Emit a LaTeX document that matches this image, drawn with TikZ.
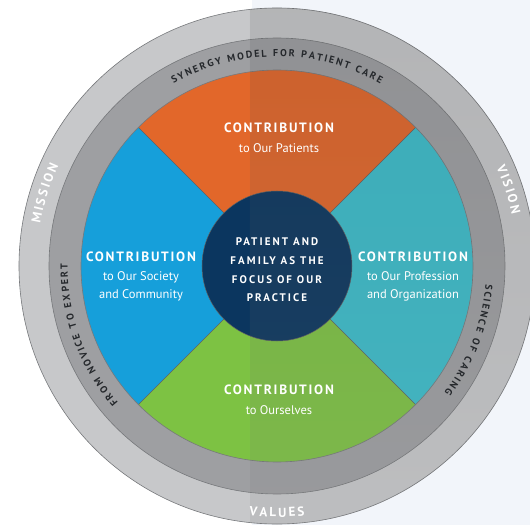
\documentclass[tikz,border=0pt]{standalone}
\usepackage{fontspec}
\setmainfont{PT Sans}
\newfontfamily\headfam{PT Sans}[LetterSpace=13]
\newfontfamily\corefam{PT Sans}[LetterSpace=19]
\newfontfamily\plainfam{PT Sans}

\definecolor{bgtint}{HTML}{F2F5FA}
\definecolor{ringouter}{HTML}{C7C8CA}
\definecolor{ringmid}{HTML}{9E9FA2}
\definecolor{ringline}{HTML}{77797C}
\definecolor{ringtext}{HTML}{25282C}
\definecolor{segorange}{HTML}{E2672A}
\definecolor{segblue}{HTML}{169FDA}
\definecolor{segteal}{HTML}{3CBDCB}
\definecolor{seggreen}{HTML}{7DC243}
\definecolor{corenavy}{HTML}{0B365F}
\definecolor{shade}{HTML}{3A5A80}

\newcommand\headfont{\headfam\bfseries\fontsize{13.5}{16}\selectfont}
\newcommand\subfont{\plainfam\fontsize{12.5}{18}\selectfont}
\newcommand\corefont{\corefam\bfseries\fontsize{11}{19}\selectfont}
\newcommand\midringfont{\plainfam\bfseries\fontsize{10}{12}\selectfont}
\newcommand\outringfont{\plainfam\bfseries\fontsize{13}{15}\selectfont}

% letters set one by one along a circle about the origin
\newlength\arcw
\newlength\arcpos
% measure one letter with the normal text font machinery
\newcommand\arcmeasure[2]{%
  \pgfinterruptpicture
    \settowidth\arcw{#1#2}%
    \global\arcw=\arcw
  \endpgfinterruptpicture
}
% #1 font, #2 baseline radius, #3 centre angle, #4 letter gap,
% #5 1 = clockwise with tops outward, -1 = anticlockwise with tops inward,
% #6 name prefix, #7 comma list of letters (~ for a space)
\newcommand\arctext[7]{%
  \global\arcpos=0pt
  \foreach \ch in {#7}{%
    \arcmeasure{#1}{\ch}%
    \global\advance\arcpos by \arcw
    \global\advance\arcpos by #4\relax
  }%
  \global\advance\arcpos by -#4\relax
  \pgfmathsetmacro\arctotal{\arcpos}%
  \global\arcpos=0pt
  \foreach \ch [count=\k] in {#7}{%
    \arcmeasure{#1}{\ch}%
    \pgfmathsetmacro\arcd{\arcpos + 0.5*\arcw - 0.5*\arctotal}%
    \pgfmathsetmacro\arcang{#3 - #5*deg(\arcd/#2)}%
    \pgfmathsetmacro\arcrot{\arcang - #5*90}%
    \node[ringchar, font=#1, rotate=\arcrot] (#6-\k) at (\arcang:#2) {\ch};
    \global\advance\arcpos by \arcw
    \global\advance\arcpos by #4\relax
  }%
}

\tikzset{
  ringchar/.style={anchor=base, inner sep=0pt, outer sep=0pt},
  ringedge/.style={draw=ringline, line width=0.6pt},
  segedge/.style={draw=ringline!80!black, line width=0.5pt},
  headlbl/.style={text=white, font=\headfont, inner sep=0pt, anchor=base},
  sublbl/.style={text=white, font=\subfont, inner sep=0pt, align=center, anchor=base},
  corelbl/.style={text=white, font=\corefont, inner sep=0pt, anchor=base},
}

\begin{document}
\begin{tikzpicture}[x=1pt, y=1pt]
  \useasboundingbox (-277,-259) rectangle (253,266);
  % page
  \fill[white] (-277,-259) rectangle (253,266);
  \fill[bgtint] (-25,-259) rectangle (253,266);

  % rings
  \fill[ringouter] (0,0) circle[radius=258];
  \draw[ringedge] (0,0) circle[radius=258];
  \fill[ringmid] (0,0) circle[radius=228];
  \draw[ringedge] (0,0) circle[radius=228];

  % four sectors
  \fill[segteal]   (0,0) -- (-45:196) arc[start angle=-45, end angle=45,  radius=196] -- cycle;
  \fill[segorange] (0,0) -- (45:196)  arc[start angle=45,  end angle=135, radius=196] -- cycle;
  \fill[segblue]   (0,0) -- (135:196) arc[start angle=135, end angle=225, radius=196] -- cycle;
  \fill[seggreen]  (0,0) -- (225:196) arc[start angle=225, end angle=315, radius=196] -- cycle;
  \foreach \a in {45,135,225,315} \draw[segedge] (0,0) -- (\a:196);
  \draw[ringedge] (0,0) circle[radius=196];

  % core
  \fill[corenavy] (0,0) circle[radius=75];
  \draw[segedge] (0,0) circle[radius=75];

  % darker tint over the right part of the wheel
  \begin{scope}
    \clip (0,0) circle[radius=258.4];
    \fill[shade, fill opacity=0.07] (-27,-260) rectangle (260,266);
  \end{scope}

  % sector labels
  \node[headlbl] (topHead) at (2,133.5) {CONTRIBUTION};
  \node[sublbl]  (topSub)  at (2,113) {to Our Patients};
  \node[headlbl] (leftHead) at (-136,4.5) {CONTRIBUTION};
  \node[sublbl]  (leftSub)  at (-136,-32.5) {to Our Society\\and Community};
  \node[headlbl] (rightHead) at (136,4.5) {CONTRIBUTION};
  \node[sublbl]  (rightSub)  at (136,-32.5) {to Our Profession\\and Organization};
  \node[headlbl] (botHead) at (2,-128.5) {CONTRIBUTION};
  \node[sublbl]  (botSub)  at (2,-148) {to Ourselves};

  % core label
  \node[corelbl] (core1) at (0,21) {PATIENT AND};
  \node[corelbl] (core2) at (0,2) {FAMILY AS THE};
  \node[corelbl] (core3) at (0,-17) {FOCUS OF OUR};
  \node[corelbl] (core4) at (0,-35) {PRACTICE};

  % middle ring words
  \begin{scope}[text=ringtext]
    \arctext{\midringfont}{209.5}{90}{1.9pt}{1}{syn}{S,Y,N,E,R,G,Y,~,M,O,D,E,L,~,F,O,R,~,P,A,T,I,E,N,T,~,C,A,R,E}
    \arctext{\midringfont}{209.5}{200}{1.9pt}{1}{nov}{F,R,O,M,~,N,O,V,I,C,E,~,T,O,~,E,X,P,E,R,T}
    \arctext{\midringfont}{209.5}{-21}{1.9pt}{1}{sci}{S,C,I,E,N,C,E,~,O,F,~,C,A,R,I,N,G}
  \end{scope}

  % outer ring words
  \begin{scope}[text=white]
    \arctext{\outringfont}{240.5}{162.6}{2.1pt}{1}{mis}{M,I,S,S,I,O,N}
    \arctext{\outringfont}{240.5}{18.3}{2.1pt}{1}{vis}{V,I,S,I,O,N}
    \arctext{\outringfont}{251}{270}{2.3pt}{-1}{val}{V,A,L,U,E,S}
  \end{scope}
\end{tikzpicture}
\end{document}
